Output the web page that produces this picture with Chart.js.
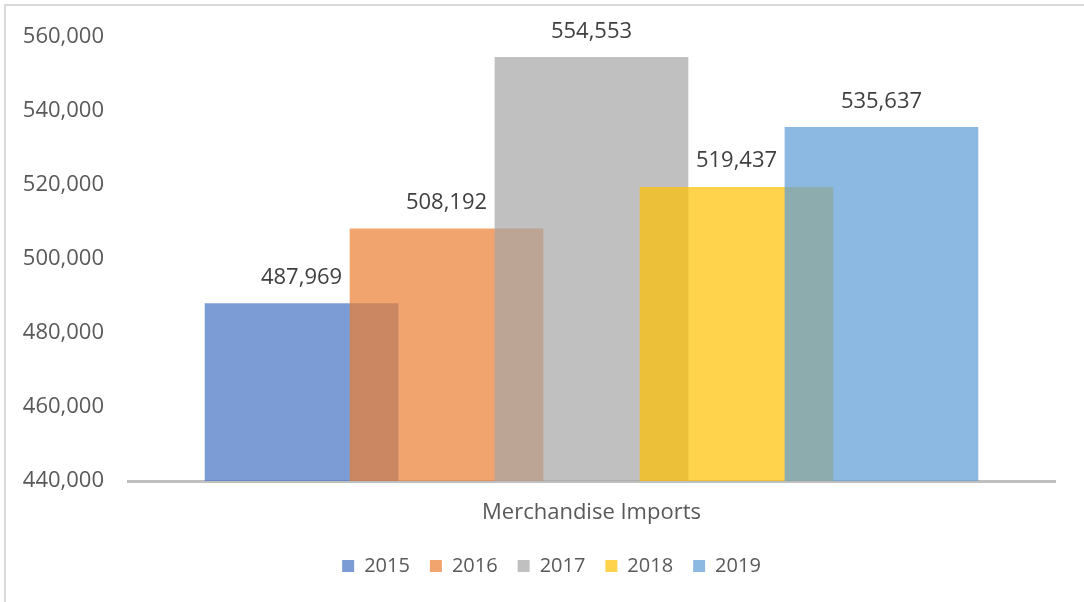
<!DOCTYPE html>
<html>
<head>
<meta charset="utf-8">
<script src="https://cdn.jsdelivr.net/npm/chart.js@4"></script>
<style>
  html, body { margin:0; padding:0; background:#fff; }
  #wrap { position:relative; width:1084px; height:602px; }
  #frame { position:absolute; left:4px; top:4px; right:-10px; bottom:-10px; border-left:2px solid #d9d9d9; border-top:2px solid #d9d9d9; pointer-events:none; }
</style>
</head>
<body>
<div id="wrap">
  <canvas id="c" width="1084" height="602"></canvas>
  <div id="frame"></div>
</div>
<script>
const categories = ['Merchandise Imports'];
const years = ['2015', '2016', '2017', '2018', '2019'];
const imports = [487969, 508192, 554553, 519437, 535637];
const yTicks = [440000, 460000, 480000, 500000, 520000, 540000, 560000];
const seriesColors = [
  'rgba(68,114,196,0.7)',
  'rgba(237,125,49,0.7)',
  'rgba(165,165,165,0.7)',
  'rgba(255,192,0,0.7)',
  'rgba(91,155,213,0.7)'
];

const FONT = "'Open Sans', sans-serif";
const fmt = v => v.toLocaleString('en-US');

const valueLabels = {
  id: 'valueLabels',
  afterDatasetsDraw(chart) {
    const ctx = chart.ctx;
    ctx.save();
    ctx.font = "22px " + FONT;
    ctx.fillStyle = '#404040';
    ctx.textAlign = 'center';
    ctx.textBaseline = 'middle';
    chart.data.datasets.forEach((ds, i) => {
      const meta = chart.getDatasetMeta(i);
      meta.data.forEach((el, j) => {
        ctx.fillText(fmt(ds.data[j].y), el.x, el.y - 26);
      });
    });
    ctx.restore();
  }
};

const datasets = years.map((yr, i) => ({
  label: yr,
  data: [{ x: i, y: imports[i] }],
  backgroundColor: seriesColors[i],
  borderWidth: 0,
  barThickness: 193,
  order: -i
}));

new Chart(document.getElementById('c'), {
  type: 'bar',
  data: { datasets },
  plugins: [valueLabels],
  options: {
    responsive: false,
    animation: false,
    events: [],
    layout: { padding: { top: 33, right: -19, left: 0, bottom: 16 } },
    datasets: { bar: { grouped: false } },
    scales: {
      x: {
        type: 'linear',
        offset: false,
        min: -1.197,
        max: 5.197,
        grid: { display: false, drawTicks: false },
        ticks: { display: false },
        border: { display: true, color: '#bfbfbf', width: 3 },
        title: {
          display: true,
          text: categories[0],
          color: '#595959',
          font: { family: FONT, size: 22 },
          padding: { top: 0, bottom: 10 }
        },
        afterFit: s => { s.height = 55; }
      },
      y: {
        min: yTicks[0],
        max: yTicks[yTicks.length - 1],
        afterBuildTicks: s => { s.ticks = yTicks.map(v => ({ value: v })); },
        grid: { display: false, drawTicks: false },
        border: { display: false },
        ticks: {
          padding: 24,
          color: '#595959',
          font: { family: FONT, size: 22 },
          callback: v => fmt(v)
        },
        afterFit: s => { s.width = 128; }
      },
      yRight: {
        type: 'linear',
        position: 'right',
        display: true,
        grid: { display: false, drawTicks: false },
        border: { display: false },
        ticks: { display: false },
        afterFit: s => { s.width = 48; }
      }
    },
    plugins: {
      tooltip: { enabled: false },
      legend: {
        position: 'bottom',
        labels: {
          boxWidth: 12,
          boxHeight: 12,
          padding: 20,
          color: '#595959',
          font: { family: FONT, size: 20 },
          sort: (a, b) => a.datasetIndex - b.datasetIndex
        }
      }
    }
  }
});
</script>
</body>
</html>
